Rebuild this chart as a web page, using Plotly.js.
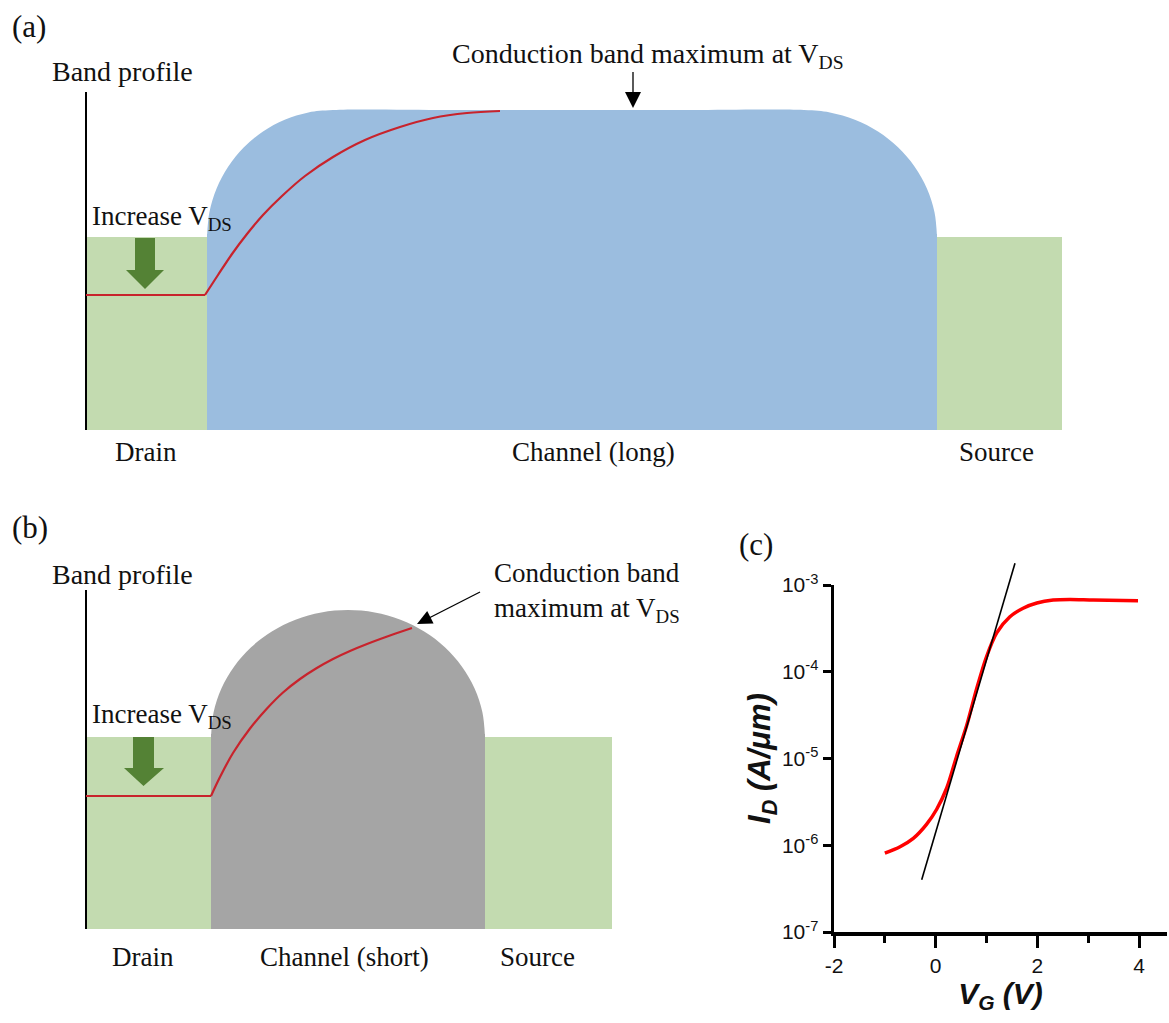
<!DOCTYPE html>
<html>
<head>
<meta charset="utf-8">
<script src="https://cdn.plot.ly/plotly-3.0.1.min.js"></script>
<style>html,body{margin:0;padding:0;background:#fff;}#chart{width:1169px;height:1023px;}</style>
</head>
<body>
<div id="chart"></div>
<script>
// ---------- Panel (a): band profile, long channel (diagram grid units) ----------
const aDrainX   = [86, 207, 207, 86, 86];
const aDrainY   = [237, 237, 430, 430, 237];
const aSourceX  = [937, 1062, 1062, 937, 937];
const aSourceY  = [237, 237, 430, 430, 237];
const aBodyX    = [207, 937, 937, 207, 207];
const aBodyY    = [234, 234, 430, 430, 234];
const aCapX     = [207, 209.4, 216.6, 228.3, 243.9, 263.0, 284.7, 308.4, 333, 450, 570, 690, 804, 829.9, 854.9, 878.0, 898.0, 914.5, 926.9, 934.5, 937];
const aCapY     = [237, 212.2, 188.4, 166.4, 147.2, 131.5, 119.7, 112.4, 110, 110, 110, 110, 110, 112.4, 119.7, 131.5, 147.2, 166.4, 188.4, 212.2, 237];
const aBandFlatX = [86, 205];
const aBandFlatY = [295, 295];
const aBandX    = [205, 218, 232, 247, 263, 282, 305, 333, 365, 400, 433, 467, 500];
const aBandY    = [295, 275, 254, 234, 215, 196, 176, 157, 140, 127, 118, 113, 111];
const aAxisX    = [86, 86];
const aAxisY    = [92, 430];
const aGreenArrowX = [135, 155, 155, 164, 145, 126, 135, 135];
const aGreenArrowY = [238, 238, 270, 270, 289, 270, 270, 238];
const aPointerX = [633, 633];
const aPointerY = [72, 95];
const aHeadX    = [625, 641, 633, 625];
const aHeadY    = [92, 92, 108, 92];

// ---------- Panel (b): band profile, short channel ----------
const bDrainX   = [86, 211, 211, 86, 86];
const bDrainY   = [737, 737, 929, 929, 737];
const bSourceX  = [485, 612, 612, 485, 485];
const bSourceY  = [737, 737, 929, 929, 737];
const bBodyX    = [211, 485, 485, 211, 211];
const bBodyY    = [734, 734, 929, 929, 734];
const bCapX     = [211, 213.6, 221.4, 234.2, 251.1, 271.8, 295.5, 321.3, 348, 374.7, 400.5, 424.2, 444.9, 461.8, 474.6, 482.4, 485];
const bCapY     = [737, 712.2, 688.4, 666.4, 647.2, 631.5, 619.7, 612.4, 610, 612.4, 619.7, 631.5, 647.2, 666.4, 688.4, 712.2, 737];
const bBandFlatX = [86, 211];
const bBandFlatY = [796, 796];
const bBandX    = [211, 220, 233, 250, 267, 283, 300, 316, 333, 350, 367, 390, 412];
const bBandY    = [796, 777, 753, 728.5, 708.5, 692.5, 679, 668.5, 659, 651, 644, 635.5, 628];
const bAxisX    = [86, 86];
const bAxisY    = [590, 929];
const bGreenArrowX = [133, 154, 154, 164, 143.5, 124, 133, 133];
const bGreenArrowY = [737, 737, 768, 768, 786, 768, 768, 737];
const bPointerX = [480, 429];
const bPointerY = [592, 618];
const bHeadX    = [417, 433.6, 427.2, 417];
const bHeadY    = [624, 623.4, 611.0, 624];

// ---------- Panel (c): transfer curve ----------
const vg   = [-1.0, -0.70, -0.44, -0.18, 0.02, 0.22, 0.41, 0.61, 0.81, 1.00, 1.20, 1.46, 1.72, 1.99, 2.31, 2.64, 3.10, 3.98];
const idA  = [8.1e-7, 9.6e-7, 1.2e-6, 1.74e-6, 2.6e-6, 4.6e-6, 1.05e-5, 2.4e-5, 6.5e-5, 1.49e-4, 2.8e-4, 4.3e-4, 5.4e-4, 6.2e-4, 6.7e-4, 6.8e-4, 6.7e-4, 6.6e-4];
const fitVg = [-0.275, 1.56];
const fitId = [4.0e-7, 1.78e-3];
const xTickVals = [-2, 0, 2, 4];
const xMinorVals = [-1, 1, 3];
const yTickVals = [1e-7, 1e-6, 1e-5, 1e-4, 1e-3];
const yTickText = ['10<sup>-7</sup>', '10<sup>-6</sup>', '10<sup>-5</sup>', '10<sup>-4</sup>', '10<sup>-3</sup>'];

const GREEN = '#C3DBB0', BLUE = '#9BBDDF', GRAY = '#A5A5A5', DGREEN = '#548235', BAND = '#C8232C';
const SERIF = 'Liberation Serif, Times New Roman, serif';
const SANS = 'Liberation Sans, Arial, sans-serif';

function poly(x, y, color, smooth) {
  return {x: x, y: y, type: 'scatter', mode: 'lines', fill: 'toself', fillcolor: color,
          line: {width: 0, color: color, shape: smooth ? 'spline' : 'linear', smoothing: 1},
          xaxis: 'x', yaxis: 'y', hoverinfo: 'skip'};
}
function line(x, y, color, w, shape) {
  return {x: x, y: y, type: 'scatter', mode: 'lines', line: {color: color, width: w, shape: shape || 'linear', smoothing: 1},
          xaxis: 'x', yaxis: 'y', hoverinfo: 'skip'};
}

const traces = [
  poly(aDrainX, aDrainY, GREEN), poly(aSourceX, aSourceY, GREEN),
  poly(aBodyX, aBodyY, BLUE), poly(aCapX, aCapY, BLUE, true),
  poly(aGreenArrowX, aGreenArrowY, DGREEN),
  line(aAxisX, aAxisY, '#000', 2),
  line(aBandFlatX, aBandFlatY, BAND, 2.2), line(aBandX, aBandY, BAND, 2.2, 'spline'),
  line(aPointerX, aPointerY, '#000', 1.3), poly(aHeadX, aHeadY, '#000'),

  poly(bDrainX, bDrainY, GREEN), poly(bSourceX, bSourceY, GREEN),
  poly(bBodyX, bBodyY, GRAY), poly(bCapX, bCapY, GRAY, true),
  poly(bGreenArrowX, bGreenArrowY, DGREEN),
  line(bAxisX, bAxisY, '#000', 2),
  line(bBandFlatX, bBandFlatY, BAND, 2.2), line(bBandX, bBandY, BAND, 2.2, 'spline'),
  line(bPointerX, bPointerY, '#000', 1.3), poly(bHeadX, bHeadY, '#000'),

  {x: vg, y: idA, type: 'scatter', mode: 'lines', line: {color: '#FF0000', width: 3.5, shape: 'spline', smoothing: 0.8},
   xaxis: 'x2', yaxis: 'y2', hoverinfo: 'skip'},
  {x: fitVg, y: fitId, type: 'scatter', mode: 'lines', line: {color: '#000', width: 1.6},
   xaxis: 'x3', yaxis: 'y3', hoverinfo: 'skip'}
];

function txt(t, x, y, size, anchor, extra) {
  return Object.assign({text: t, x: x, y: y, xref: 'x', yref: 'y', showarrow: false,
    xanchor: anchor || 'center', yanchor: 'middle', font: {family: SERIF, size: size, color: '#111'}}, extra || {});
}

const annotations = [
  txt('(a)', 29, 26, 31),
  txt('Band profile', 122, 71, 28),
  txt('Increase V<sub>DS</sub>', 90, 218, 27, 'left'),
  txt('Conduction band maximum at V<sub>DS</sub>', 450, 55, 28, 'left'),
  txt('Drain', 146, 452, 27),
  txt('Channel (long)', 593, 452, 27),
  txt('Source', 996, 452, 27),

  txt('(b)', 30, 527, 31),
  txt('Band profile', 122, 574, 28),
  txt('Increase V<sub>DS</sub>', 90, 716, 27, 'left'),
  txt('Conduction band<br>maximum at V<sub>DS</sub>', 492, 592, 27, 'left', {align: 'left'}),
  txt('Drain', 143, 957, 27),
  txt('Channel (short)', 344, 957, 27),
  txt('Source', 537, 957, 27),

  txt('(c)', 756, 544, 31)
];

const H = 1023, W = 1169;
const cX = [834 / W, 1167 / W];
const cY = [1 - 932 / H, 1 - 585 / H];
const fitY = [1 - 932 / H, 1 - 555 / H];

const layout = {
  width: W, height: H,
  margin: {l: 0, r: 0, t: 0, b: 0, pad: 0},
  paper_bgcolor: '#fff', plot_bgcolor: 'rgba(0,0,0,0)',
  showlegend: false, hovermode: false,
  xaxis: {domain: [0, 1], range: [0, W], visible: false, fixedrange: true},
  yaxis: {domain: [0, 1], range: [H, 0], visible: false, fixedrange: true},
  xaxis2: {domain: cX, range: [-2, 4.55], anchor: 'y2', showline: true, linecolor: '#000', linewidth: 3.5,
    showgrid: false, zeroline: false, ticks: 'outside', ticklen: 12, tickwidth: 3, tickcolor: '#000',
    tickvals: xTickVals, ticktext: xTickVals.map(String),
    minor: {tickvals: xMinorVals, ticks: 'outside', ticklen: 7, tickwidth: 3, tickcolor: '#000', showgrid: false},
    tickfont: {family: SANS, size: 21, color: '#111'},
    title: {text: '<b><i>V<sub>G</sub> (V)</i></b>', font: {family: SANS, size: 30, color: '#111'}, standoff: 6}},
  yaxis2: {domain: cY, type: 'log', range: [-7, -3], anchor: 'x2', showline: true, linecolor: '#000', linewidth: 3.5,
    showgrid: false, zeroline: false, ticks: 'outside', ticklen: 8, tickwidth: 3, tickcolor: '#000',
    tickvals: yTickVals, ticktext: yTickText,
    tickfont: {family: SANS, size: 21, color: '#111'},
    title: {text: '<b><i>I<sub>D</sub> (A/μm)</i></b>', font: {family: SANS, size: 31, color: '#111'}, standoff: 0}},
  xaxis3: {domain: cX, range: [-2, 4.55], anchor: 'y3', visible: false},
  yaxis3: {domain: fitY, type: 'log', range: [-7, -7 + (932 - 555) / 86.75], anchor: 'x3', visible: false},
  annotations: annotations
};

Plotly.newPlot('chart', traces, layout, {displayModeBar: false, staticPlot: true});
</script>
</body>
</html>
